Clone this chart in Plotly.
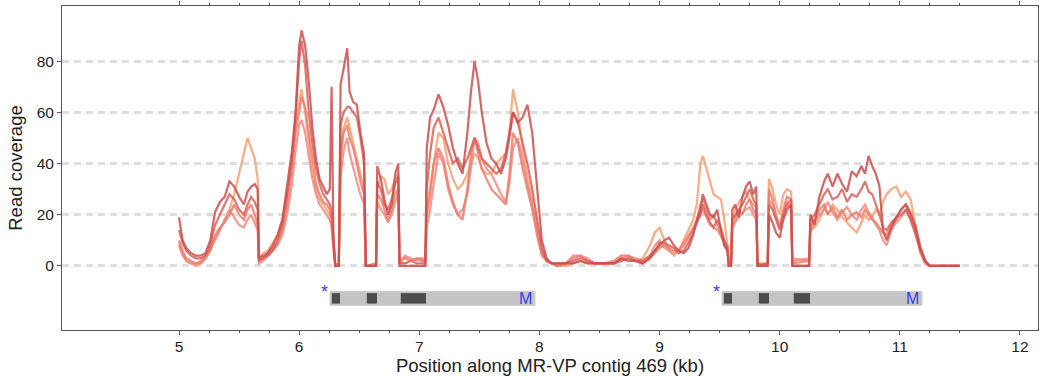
import plotly.graph_objects as go

# Positions along the contig (kb), shared by every coverage track
position_kb = [
    5.00, 5.03, 5.06, 5.10, 5.14, 5.18, 5.22, 5.26, 5.30, 5.34, 5.38, 5.42, 5.46, 5.50, 5.54, 5.57, 5.60, 5.63, 5.655,
    5.665, 5.70, 5.74, 5.78, 5.82, 5.86, 5.90, 5.94, 5.97, 6.00, 6.02, 6.05, 6.08, 6.11, 6.14, 6.17, 6.20, 6.23, 6.255, 6.27, 6.285,
    6.30, 6.33,
    6.345, 6.37, 6.40, 6.42, 6.45, 6.48, 6.51, 6.54,
    6.555, 6.64,
    6.65, 6.68, 6.71, 6.74, 6.77, 6.80, 6.825,
    6.835, 6.88, 6.93, 6.98, 7.02, 7.05,
    7.062, 7.09, 7.12, 7.16, 7.20, 7.24, 7.28, 7.32, 7.36, 7.40, 7.43, 7.46, 7.49, 7.52, 7.56,
    7.60, 7.64, 7.68, 7.72, 7.75, 7.78, 7.82, 7.86, 7.90, 7.94, 7.98, 8.02, 8.06, 8.10,
    8.15, 8.22, 8.28, 8.34, 8.40, 8.46, 8.54, 8.62, 8.68, 8.74, 8.80, 8.86, 8.92, 8.96, 9.00,
    9.04, 9.08, 9.12, 9.16, 9.20, 9.24, 9.28, 9.31, 9.34, 9.36, 9.39, 9.42, 9.45, 9.48, 9.51, 9.54, 9.565,
    9.575, 9.595,
    9.605, 9.63, 9.66, 9.69, 9.72, 9.75, 9.78, 9.805,
    9.815, 9.90,
    9.91, 9.94, 9.97, 10.00, 10.03, 10.06, 10.095,
    10.105, 10.245,
    10.255, 10.29, 10.33, 10.37, 10.40, 10.44, 10.48, 10.52, 10.56, 10.60, 10.64, 10.68, 10.71, 10.74, 10.77,
    10.80, 10.83, 10.86, 10.89, 10.93, 10.97, 11.01, 11.05, 11.09, 11.13, 11.17, 11.21, 11.25, 11.35, 11.50,
]

cov_a = [
    19, 10, 7, 5, 4, 4, 5, 10, 21, 25, 27, 33, 31, 27, 24, 29, 31, 32, 30,
    3, 4, 5, 8, 12, 18, 32, 45, 60, 86, 92, 86, 72, 54, 42, 34, 31, 28, 30, 70, 12,
    0, 0,
    71, 77, 85, 68, 64, 63, 52, 44,
    0, 0,
    39, 34, 26, 20, 24, 36, 40,
    0, 0, 0, 0, 0, 0,
    46, 58, 61, 67, 62, 55, 46, 40, 36, 52, 68, 80, 72, 60, 48,
    42, 40, 36, 42, 50, 60, 56, 58, 63, 52, 32, 10, 3, 1,
    1, 1, 1, 2, 1, 1, 1, 1, 3, 2, 2, 1, 3, 6, 8,
    10, 11, 8, 6, 5, 7, 12, 18, 22, 28, 24, 20, 19, 22, 14, 8, 6,
    0, 0,
    22, 24, 19, 27, 31, 33, 28, 31,
    0, 0,
    20, 17, 13, 11, 18, 22, 24,
    0, 0,
    20, 16, 27, 33, 36, 31, 36, 32, 29, 37, 35, 39, 36, 43, 39,
    36, 31, 14, 10, 15, 19, 22, 24, 20, 15, 7, 2, 0, 0, 0,
]

cov_b = [
    14, 9, 6, 4, 3, 3, 4, 8, 16, 20, 24, 28, 26, 22, 20, 24, 27, 25, 22,
    2, 3, 4, 6, 10, 16, 28, 42, 58, 80, 88, 78, 60, 48, 38, 32, 28, 26, 24, 22, 10,
    0, 0,
    55, 60, 62, 62, 60, 58, 50, 40,
    0, 0,
    33, 30, 24, 22, 26, 32, 35,
    1, 1, 2, 1, 1, 1,
    30, 44, 54, 58, 52, 46, 40, 42, 38, 42, 46, 50, 46, 42, 40,
    38, 36, 38, 44, 52, 60, 56, 48, 40, 30, 18, 7, 2, 1,
    1, 1, 2, 3, 2, 1, 1, 1, 2, 3, 2, 2, 4, 6, 9,
    9, 8, 7, 5, 6, 9, 13, 17, 20, 24, 20, 17, 15, 18, 15, 10, 7,
    0, 0,
    18, 20, 22, 24, 27, 30, 26, 24,
    0, 1,
    24, 22, 18, 14, 20, 24, 26,
    0, 0,
    18, 20, 24, 28, 30, 26, 27, 30, 25, 28, 27, 30, 33, 29, 28,
    24, 20, 15, 14, 17, 19, 20, 22, 18, 13, 6, 2, 0, 0, 0,
]

cov_c = [
    10, 6, 3, 2, 1, 1, 3, 6, 12, 15, 17, 20, 24, 20, 18, 22, 24, 20, 16,
    2, 3, 5, 7, 9, 14, 24, 38, 52, 60, 66, 62, 52, 40, 32, 28, 25, 24, 22, 18, 8,
    1, 0,
    42, 52, 55, 50, 46, 40, 33, 28,
    0, 1,
    28, 26, 22, 18, 22, 28, 30,
    2, 3, 2, 3, 2, 2,
    20, 28, 40, 46, 42, 32, 25, 20, 18, 30, 44, 50, 44, 38, 34,
    30, 28, 26, 24, 36, 52, 48, 38, 30, 22, 12, 4, 2, 1,
    0, 1, 3, 4, 2, 1, 1, 2, 4, 4, 2, 1, 3, 5, 7,
    8, 7, 6, 6, 8, 11, 15, 18, 24, 26, 22, 18, 20, 16, 12, 9, 8,
    2, 1,
    16, 18, 22, 20, 24, 26, 22, 20,
    1, 0,
    30, 26, 20, 15, 22, 27, 26,
    1, 2,
    15, 18, 22, 24, 20, 23, 19, 22, 18, 20, 21, 19, 22, 20, 18,
    17, 15, 13, 12, 16, 18, 22, 24, 21, 16, 8, 2, 0, 0, 0,
]

cov_d = [
    8, 4, 2, 1, 1, 2, 4, 7, 10, 14, 18, 22, 19, 16, 15, 18, 20, 17, 14,
    1, 2, 4, 6, 8, 12, 20, 32, 45, 55, 57, 52, 42, 34, 28, 24, 22, 20, 18, 15, 6,
    0, 1,
    35, 45, 50, 44, 38, 33, 28, 24,
    0, 0,
    25, 22, 20, 17, 20, 25, 28,
    1, 4, 3, 2, 3, 1,
    15, 22, 32, 44, 40, 30, 24, 20, 22, 28, 38, 50, 48, 42, 38,
    36, 32, 28, 25, 32, 46, 50, 42, 32, 24, 14, 5, 2, 1,
    0, 1, 4, 4, 3, 1, 1, 1, 3, 4, 3, 2, 4, 8, 10,
    7, 6, 5, 6, 9, 12, 14, 17, 20, 22, 19, 16, 15, 14, 12, 8, 6,
    1, 2,
    14, 17, 19, 21, 22, 23, 20, 18,
    0, 1,
    26, 24, 19, 16, 20, 25, 22,
    2, 3,
    13, 17, 20, 22, 25, 21, 18, 21, 23, 20, 18, 22, 24, 21, 19,
    16, 14, 10, 8, 14, 17, 19, 22, 18, 12, 6, 1, 0, 0, 0,
]

cov_e = [
    9, 5, 2, 1, 0, 1, 3, 6, 11, 14, 18, 22, 28, 36, 45, 50, 46, 42, 34,
    3, 5, 6, 9, 12, 18, 28, 40, 55, 64, 69, 60, 48, 36, 30, 26, 24, 22, 20, 16, 6,
    1, 0,
    45, 54, 58, 54, 48, 42, 36, 30,
    0, 0,
    30, 35, 34, 28, 30, 34, 36,
    2, 1, 2, 3, 3, 2,
    22, 30, 40, 52, 50, 40, 34, 30, 32, 36, 40, 44, 42, 38, 36,
    36, 40, 42, 44, 52, 69, 60, 46, 35, 26, 15, 6, 2, 1,
    0, 0, 1, 2, 1, 1, 1, 1, 2, 3, 2, 3, 8, 13, 15,
    10, 6, 4, 6, 10, 14, 18, 24, 40, 43, 38, 32, 28, 27, 26, 18, 8,
    1, 1,
    18, 22, 25, 27, 29, 26, 24, 23,
    1, 1,
    34, 30, 24, 20, 28, 30, 29,
    3, 2,
    14, 15, 18, 23, 20, 24, 22, 19, 17, 15, 13, 17, 20, 18, 19,
    22, 20, 25, 28, 30, 31, 27, 29, 26, 16, 5, 1, 0, 0, 0,
]

tracks = [cov_e, cov_d, cov_c, cov_b, cov_a]
track_colors = ["#f4a070", "#f28a80", "#ee7b6c", "#d8625a", "#cc4e4e"]
for t in tracks:
    assert len(t) == len(position_kb)

# Gene models drawn under the coverage (kb)
gene_start = [6.257, 9.520]
gene_end = [7.963, 11.184]
gene_dark = [
    [(6.257, 6.340), (6.548, 6.648), (6.831, 7.056)],
    [(9.520, 9.603), (9.811, 9.911), (10.102, 10.252)],
]

x_ticks = [5, 6, 7, 8, 9, 10, 11, 12]
x_minor = [5.25, 5.5, 5.75, 6.25, 6.5, 6.75, 7.25, 7.5, 7.75, 8.25, 8.5, 8.75,
           9.25, 9.5, 9.75, 10.25, 10.5, 10.75, 11.25, 11.5]
y_ticks = [0, 20, 40, 60, 80]

FONT = "Liberation Sans, Arial, sans-serif"

fig = go.Figure()
for ys, col in zip(tracks, track_colors):
    fig.add_trace(go.Scatter(
        x=position_kb, y=ys, mode="lines",
        line=dict(color=col, width=2.2), opacity=0.85,
        showlegend=False, hoverinfo="skip",
    ))

bar_top, bar_bot = -9.9, -15.4
dark_top, dark_bot = -10.6, -14.7
shapes = []
annotations = []
for gs, ge, darks in zip(gene_start, gene_end, gene_dark):
    shapes.append(dict(type="rect", xref="x", yref="y", x0=gs, x1=ge, y0=bar_bot, y1=bar_top,
                       fillcolor="#c4c4c4", line=dict(width=1, color="#cfcfcf"), layer="above"))
    for d0, d1 in darks:
        shapes.append(dict(type="rect", xref="x", yref="y", x0=d0 + 0.015, x1=d1, y0=dark_bot, y1=dark_top,
                           fillcolor="#4d4d4d", line=dict(width=0), layer="above"))
    annotations.append(dict(x=gs, y=bar_top - 0.4, xref="x", yref="y", text="*", showarrow=False,
                            xanchor="right", yanchor="middle", xshift=0,
                            font=dict(family=FONT, size=18, color="#3c3cf0")))
    annotations.append(dict(x=ge, y=(bar_top + bar_bot) / 2, xref="x", yref="y", text="M", showarrow=False,
                            xanchor="right", yanchor="middle", xshift=-1,
                            font=dict(family=FONT, size=16, color="#3c3cf0")))

fig.update_layout(
    width=1043, height=377,
    margin=dict(l=62, r=5, t=6, b=47),
    paper_bgcolor="white", plot_bgcolor="white",
    font=dict(family=FONT, color="#222222"),
    shapes=shapes, annotations=annotations,
    xaxis=dict(
        range=[4.026, 12.15], tickvals=x_ticks, ticktext=[str(v) for v in x_ticks],
        ticks="outside", ticklen=4, tickwidth=1, tickcolor="#555555",
        showline=True, linecolor="#555555", linewidth=1, mirror="ticks",
        showgrid=False, zeroline=False, automargin=False,
        ticklabelstandoff=-2,
        minor=dict(tickvals=x_minor, ticks="outside", ticklen=2, tickcolor="#555555", showgrid=False),
        tickfont=dict(size=15.5, color="#222222"),
        title=dict(text="Position along MR-VP contig 469 (kb)", font=dict(size=18.5, color="#222222"), standoff=3),
    ),
    yaxis=dict(
        range=[-25, 101.5], tickvals=y_ticks,
        ticks="outside", ticklen=4, tickwidth=1, tickcolor="#555555",
        showline=True, linecolor="#555555", linewidth=1, mirror=True,
        showgrid=True, gridcolor="#dedede", gridwidth=2.5, griddash="7px,5px",
        zeroline=False, automargin=False,
        tickfont=dict(size=15.5, color="#222222"),
        title=dict(text="Read coverage", font=dict(size=18.5, color="#222222"), standoff=9),
    ),
)

fig.write_html("out.html")
